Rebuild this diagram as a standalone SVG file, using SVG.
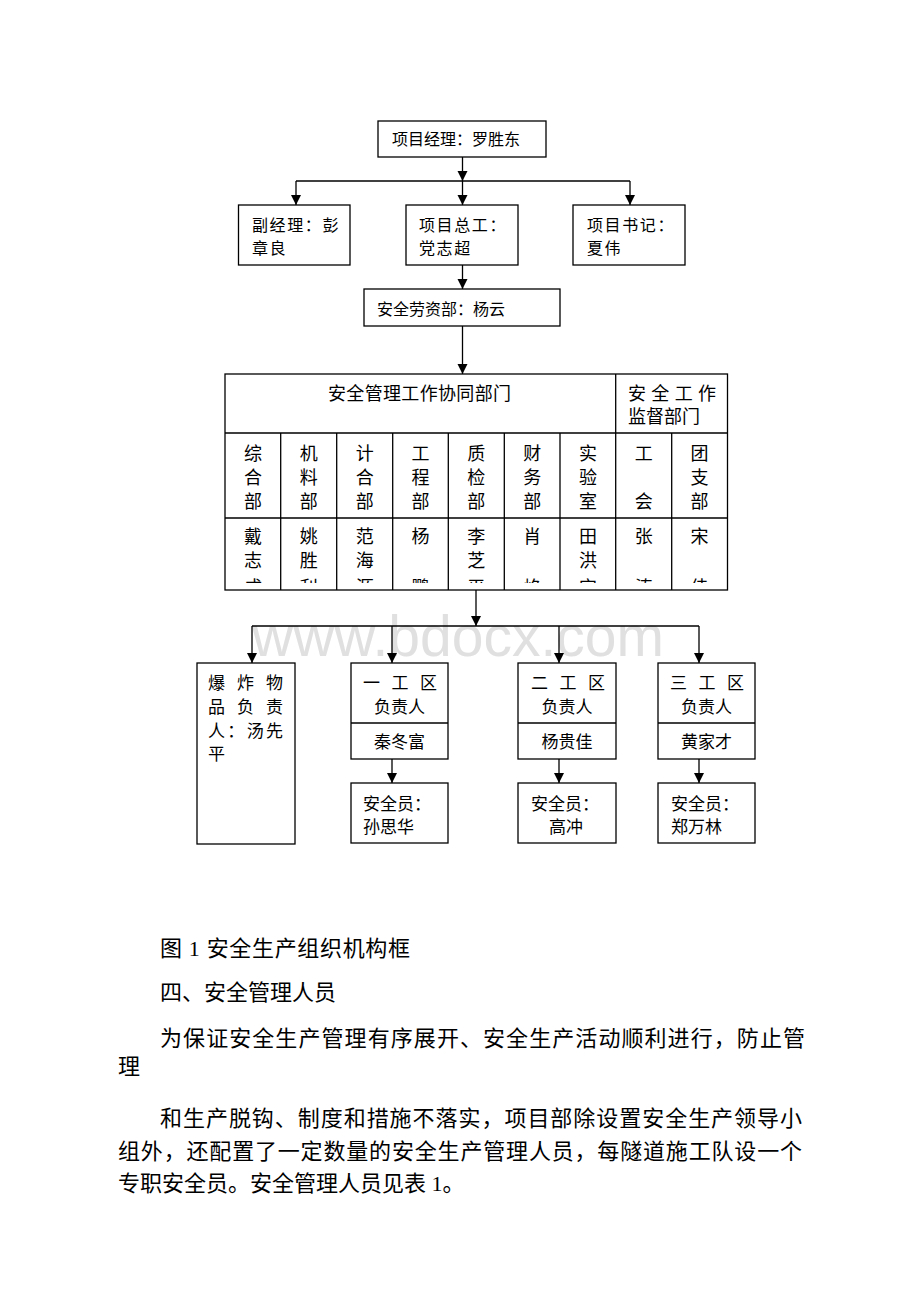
<svg xmlns="http://www.w3.org/2000/svg" width="920" height="1302" viewBox="0 0 920 1302">
<style>
.t{font-family:"Liberation Serif","Noto Sans CJK SC",serif;fill:#000}
.b16{font-size:16px}
.b17{font-size:17px}
.b18{font-size:18px}
.p{font-size:22px}
.box{fill:#fff;stroke:#000;stroke-width:1.3}
.ln{fill:none;stroke:#000;stroke-width:1.3}
.arr{fill:none;stroke:#000;stroke-width:1.3;marker-end:url(#ah)}
.mid{text-anchor:middle}
.wm{font-family:"Liberation Sans",Arial,sans-serif;font-size:57px;fill:#e0e0e0}
</style>
<defs>
<marker id="ah" markerUnits="userSpaceOnUse" markerWidth="10" markerHeight="11" refX="10" refY="5" orient="auto">
<path d="M0,0 L10,5 L0,10 z" fill="#000"/>
</marker>
<clipPath id="r3"><rect x="225" y="518" width="503" height="65"/></clipPath>
</defs>
<rect x="0" y="0" width="920" height="1302" fill="#fff"/>
<text class="wm" x="252" y="656" textLength="412" lengthAdjust="spacingAndGlyphs">www.bdocx.com</text>

<g id="connectors">
<path class="arr" d="M462.5,157 V181"/>
<path class="ln" d="M296,181 H630"/>
<path class="arr" d="M296,181 V205"/>
<path class="arr" d="M462.5,181 V205"/>
<path class="arr" d="M630,181 V205"/>
<path class="arr" d="M462.5,265 V289"/>
<path class="arr" d="M462.5,326 V374"/>
<path class="arr" d="M476,590 V626"/>
<path class="ln" d="M252,626 H699"/>
<path class="arr" d="M252,626 V663"/>
<path class="arr" d="M392,626 V663"/>
<path class="arr" d="M559,626 V663"/>
<path class="arr" d="M699,626 V663"/>
<path class="arr" d="M392,759 V783"/>
<path class="arr" d="M559,759 V783"/>
<path class="arr" d="M699,759 V783"/>
</g>

<g id="n_manager">
<rect class="box" x="378" y="121" width="168" height="36"/>
<text class="t b16" x="392" y="144.5">项目经理：罗胜东</text>
</g>
<g id="n_deputy">
<rect class="box" x="238.5" y="205" width="111.5" height="60"/>
<text class="t b16" x="252" y="230.5" letter-spacing="1.6">副经理：彭</text>
<text class="t b16" x="252" y="254" letter-spacing="1.6">章良</text>
</g>
<g id="n_chief">
<rect class="box" x="406" y="205" width="112" height="60"/>
<text class="t b16" x="419" y="230.5" letter-spacing="1.6">项目总工：</text>
<text class="t b16" x="419" y="254" letter-spacing="1.6">党志超</text>
</g>
<g id="n_secretary">
<rect class="box" x="573" y="205" width="112" height="60"/>
<text class="t b16" x="587" y="230.5" letter-spacing="1.6">项目书记：</text>
<text class="t b16" x="587" y="254" letter-spacing="1.6">夏伟</text>
</g>
<g id="n_safety_dept">
<rect class="box" x="364" y="289" width="196" height="37"/>
<text class="t b16" x="377" y="314.5">安全劳资部：杨云</text>
</g>

<g id="n_table">
<rect class="box" x="225" y="374" width="502.5" height="216"/>
<path class="ln" d="M225,433 H727.5 M225,518 H727.5 M615.7,374 V590 M280.7,433 V590 M336.7,433 V590 M392.7,433 V590 M448.3,433 V590 M504.3,433 V590 M560,433 V590 M671.7,433 V590"/>
<text class="t b18" x="328" y="399.5" textLength="183" lengthAdjust="spacing">安全管理工作协同部门</text>
<text class="t b18" x="628" y="399.5" textLength="88" lengthAdjust="spacing">安全工作</text>
<text class="t b18" x="628" y="422.5">监督部门</text>
<g class="t b18 mid">
<text x="252.9" y="460">综</text><text x="252.9" y="484">合</text><text x="252.9" y="508">部</text>
<text x="308.7" y="460">机</text><text x="308.7" y="484">料</text><text x="308.7" y="508">部</text>
<text x="364.7" y="460">计</text><text x="364.7" y="484">合</text><text x="364.7" y="508">部</text>
<text x="420.5" y="460">工</text><text x="420.5" y="484">程</text><text x="420.5" y="508">部</text>
<text x="476.3" y="460">质</text><text x="476.3" y="484">检</text><text x="476.3" y="508">部</text>
<text x="532.2" y="460">财</text><text x="532.2" y="484">务</text><text x="532.2" y="508">部</text>
<text x="587.9" y="460">实</text><text x="587.9" y="484">验</text><text x="587.9" y="508">室</text>
<text x="643.7" y="460">工</text><text x="643.7" y="508">会</text>
<text x="699.5" y="460">团</text><text x="699.5" y="484">支</text><text x="699.5" y="508">部</text>
</g>
<g class="t b18 mid" clip-path="url(#r3)">
<text x="252.9" y="543">戴</text><text x="252.9" y="566.5">志</text><text x="252.9" y="594">成</text>
<text x="308.7" y="543">姚</text><text x="308.7" y="566.5">胜</text><text x="308.7" y="594">利</text>
<text x="364.7" y="543">范</text><text x="364.7" y="566.5">海</text><text x="364.7" y="594">源</text>
<text x="420.5" y="543">杨</text><text x="420.5" y="594">鹏</text>
<text x="476.3" y="543">李</text><text x="476.3" y="566.5">芝</text><text x="476.3" y="594">平</text>
<text x="532.2" y="543">肖</text><text x="532.2" y="594">焰</text>
<text x="587.9" y="543">田</text><text x="587.9" y="566.5">洪</text><text x="587.9" y="594">宝</text>
<text x="643.7" y="543">张</text><text x="643.7" y="594">涛</text>
<text x="699.5" y="543">宋</text><text x="699.5" y="594">佳</text>
</g>
</g>

<g id="n_explosives">
<rect class="box" x="197" y="663" width="98" height="181"/>
<text class="t b17" x="208" y="689" textLength="75" lengthAdjust="spacing">爆炸物</text>
<text class="t b17" x="208" y="713" textLength="75" lengthAdjust="spacing">品负责</text>
<text class="t b17" x="208" y="737" textLength="75" lengthAdjust="spacing">人：汤先</text>
<text class="t b17" x="208" y="760">平</text>
</g>
<g id="n_zone1">
<rect class="box" x="351" y="663" width="97" height="96"/>
<path class="ln" d="M351,723 H448"/>
<text class="t b17" x="363" y="689" textLength="74" lengthAdjust="spacing">一工区</text>
<text class="t b17 mid" x="399.5" y="713">负责人</text>
<text class="t b17 mid" x="399.5" y="748">秦冬富</text>
</g>
<g id="n_safety1">
<rect class="box" x="351" y="783" width="97" height="60"/>
<text class="t b17" x="363" y="810">安全员：</text>
<text class="t b17" x="363" y="833">孙思华</text>
</g>
<g id="n_zone2">
<rect class="box" x="518" y="663" width="98" height="96"/>
<path class="ln" d="M518,723 H616"/>
<text class="t b17" x="531" y="689" textLength="74" lengthAdjust="spacing">二工区</text>
<text class="t b17 mid" x="567" y="713">负责人</text>
<text class="t b17 mid" x="567" y="748">杨贵佳</text>
</g>
<g id="n_safety2">
<rect class="box" x="518" y="783" width="98" height="60"/>
<text class="t b17" x="531" y="810">安全员：</text>
<text class="t b17" x="549" y="833">高冲</text>
</g>
<g id="n_zone3">
<rect class="box" x="658" y="663" width="97" height="96"/>
<path class="ln" d="M658,723 H755"/>
<text class="t b17" x="670" y="689" textLength="74" lengthAdjust="spacing">三工区</text>
<text class="t b17 mid" x="706.5" y="713">负责人</text>
<text class="t b17 mid" x="706.5" y="748">黄家才</text>
</g>
<g id="n_safety3">
<rect class="box" x="658" y="783" width="97" height="60"/>
<text class="t b17" x="671" y="810">安全员：</text>
<text class="t b17" x="671" y="833">郑万林</text>
</g>

<g id="body_text" class="t p">
<text x="160" y="956" textLength="250" lengthAdjust="spacing">图 1 安全生产组织机构框</text>
<text x="160" y="1000">四、安全管理人员</text>
<text x="160" y="1046" textLength="645" lengthAdjust="spacing">为保证安全生产管理有序展开、安全生产活动顺利进行，防止管</text>
<text x="118" y="1074">理</text>
<text x="160" y="1126" textLength="642" lengthAdjust="spacing">和生产脱钩、制度和措施不落实，项目部除设置安全生产领导小</text>
<text x="118" y="1159" textLength="684" lengthAdjust="spacing">组外，还配置了一定数量的安全生产管理人员，每隧道施工队设一个</text>
<text x="118" y="1191">专职安全员。安全管理人员见表 1。</text>
</g>
</svg>
